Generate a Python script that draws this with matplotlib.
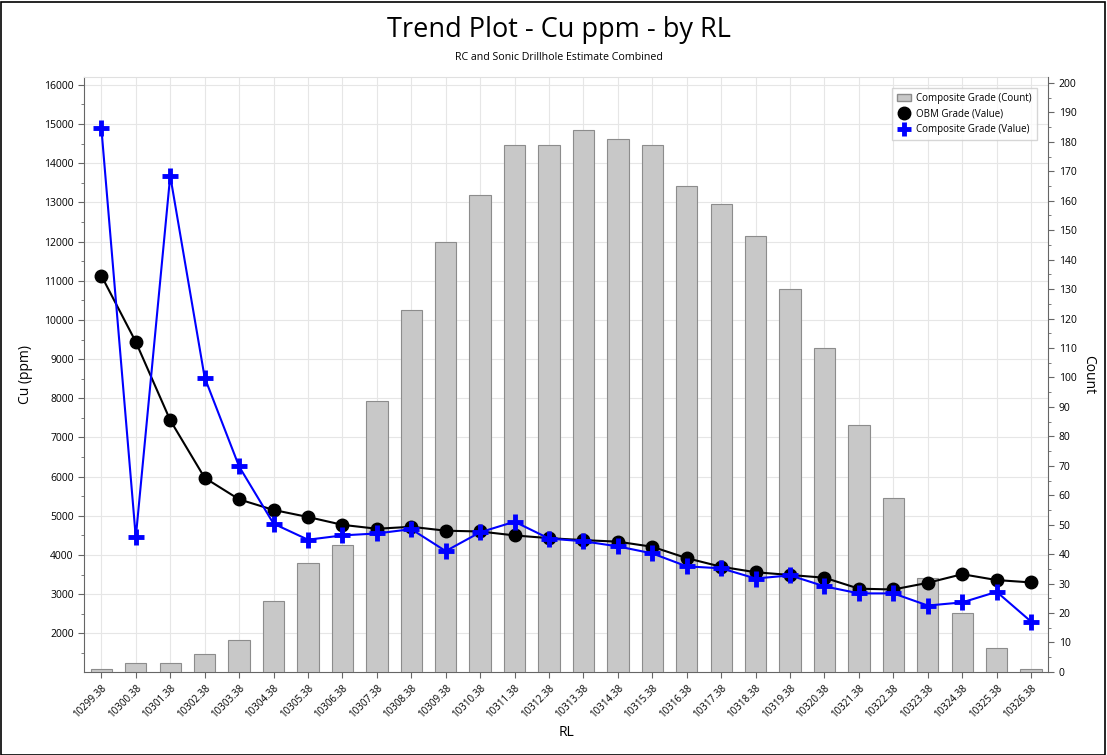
import matplotlib.pyplot as plt
import numpy as np
from matplotlib.ticker import MultipleLocator
from matplotlib.lines import Line2D
from matplotlib.patches import Patch, Rectangle

plt.rcParams['font.family'] = ['Open Sans', 'DejaVu Sans']

rl = [f"{10299 + i}.38" for i in range(28)]

count = [1, 3, 3, 6, 11, 24, 37, 43, 92, 123, 146, 162, 179, 179,
         184, 181, 179, 165, 159, 148, 130, 110, 84, 59, 32, 20, 8, 1]

obm = [11130, 9440, 7440, 5970, 5420, 5150, 4970, 4770, 4670, 4720,
       4620, 4600, 4500, 4430, 4380, 4340, 4210, 3920, 3700, 3560,
       3490, 3420, 3140, 3120, 3290, 3510, 3360, 3300]

comp = [14900, 4450, 13680, 8530, 6260, 4800, 4390, 4500, 4550, 4660,
        4100, 4580, 4850, 4420, 4350, 4220, 4040, 3710, 3660, 3400,
        3480, 3200, 3020, 3020, 2710, 2790, 3060, 2300]

x = np.arange(len(rl))

fig = plt.figure(figsize=(11.07, 7.55), dpi=100)
fig.patches.append(Rectangle((0.001, 0.0), 0.997, 0.998, transform=fig.transFigure,
                             fill=False, edgecolor='black', linewidth=1.2))

pos = [0.076, 0.110, 0.871, 0.788]
ax = fig.add_axes(pos)
ax2 = ax.twinx()
ax3 = fig.add_axes(pos, sharex=ax, sharey=ax)

# grid + left axis
ax.set_xlim(-0.5, 27.5)
ax.set_ylim(1015, 16200)
ax.yaxis.set_major_locator(MultipleLocator(1000))
ax.yaxis.set_minor_locator(MultipleLocator(500))
ax.set_xticks(x)
ax.set_xticklabels(rl, rotation=45, ha='right', rotation_mode='anchor', fontsize=7)
ax.grid(True, color='#e6e6e6', linewidth=0.8)
ax.set_axisbelow(True)
ax.tick_params(axis='y', labelsize=7.5, length=4, color='#666666')
ax.tick_params(axis='y', which='minor', length=2, color='#666666')
ax.tick_params(axis='x', length=4, color='#666666')
ax.set_ylabel("Cu (ppm)", fontsize=10, labelpad=8)
ax.set_xlabel("RL", fontsize=10, labelpad=4)
for s in ['left', 'bottom']:
    ax.spines[s].set_color('#666666')
ax.spines['top'].set_color('#e0e0e0')
ax.spines['right'].set_visible(False)

# bars on count axis
ax2.bar(x, count, width=0.62, color='#c8c8c8', edgecolor='#8c8c8c', linewidth=0.8)
ax2.set_ylim(0, 202)
ax2.yaxis.set_major_locator(MultipleLocator(10))
ax2.yaxis.set_minor_locator(MultipleLocator(5))
ax2.tick_params(axis='y', labelsize=7.5, length=4, color='#666666')
ax2.tick_params(axis='y', which='minor', length=2, color='#666666')
ax2.set_ylabel("Count", fontsize=10, rotation=-90, labelpad=14)
ax2.spines['right'].set_color('#666666')
for s in ['top', 'left', 'bottom']:
    ax2.spines[s].set_visible(False)

# lines on top
ax3.axis('off')
ax3.patch.set_visible(False)
ax3.plot(x, obm, color='black', linewidth=1.5, marker='o', markersize=9)
ax3.plot(x, comp, color='#0000ff', linewidth=1.5, marker='+', markersize=11,
         markeredgewidth=3.5)

handles = [Patch(facecolor='#c8c8c8', edgecolor='#8c8c8c'),
           Line2D([], [], color='black', marker='o', markersize=9, linewidth=0),
           Line2D([], [], color='#0000ff', marker='+', markersize=10,
                  markeredgewidth=3.5, linewidth=0)]
labels = ["Composite Grade (Count)", "OBM Grade (Value)", "Composite Grade (Value)"]
leg = ax3.legend(handles, labels, loc='upper right', fontsize=7, frameon=True,
                 fancybox=False, edgecolor='#cccccc', borderpad=0.5,
                 handlelength=1.5, handletextpad=0.5, labelspacing=0.5,
                 bbox_to_anchor=(0.993, 0.99))

fig.text(0.505, 0.96, "Trend Plot - Cu ppm - by RL", ha='center', va='center', fontsize=19.5)
fig.text(0.505, 0.924, "RC and Sonic Drillhole Estimate Combined", ha='center', va='center',
         fontsize=7.7)

fig.savefig("out.png", dpi=100)
